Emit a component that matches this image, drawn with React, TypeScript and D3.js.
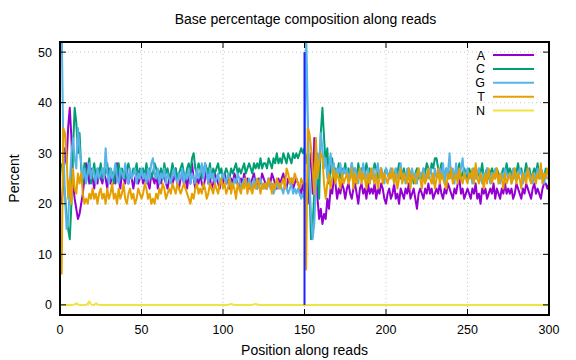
import * as d3 from 'd3';

// Percent of each base at every read position (1..300, two 150bp reads joined)
const aPercent = [
  20, 24, 31, 28, 35, 39, 33, 24, 21, 19, 17, 18, 20, 22, 25, 28, 26, 24, 27, 25, 23, 26, 24, 27, 25,
  24, 26, 25, 23, 27, 24, 26, 25, 24, 28, 25, 23, 26, 25, 24, 27, 24, 26, 25, 23, 25, 26, 24, 25, 26,
  24, 25, 27, 24, 23, 26, 25, 24, 26, 23, 25, 24, 26, 25, 24, 23, 25, 26, 24, 25, 27, 24, 23, 25, 26,
  24, 25, 23, 26, 24, 28, 25, 23, 25, 24, 26, 24, 23, 25, 27, 24, 25, 23, 24, 26, 25, 24, 23, 25, 24,
  26, 24, 25, 23, 25, 24, 26, 25, 24, 23, 25, 24, 26, 24, 25, 23, 24, 25, 26, 24, 23, 25, 24, 26, 25,
  24, 23, 25, 24, 26, 25, 24, 23, 25, 24, 25, 26, 24, 23, 25, 24, 25, 23, 24, 25, 24, 23, 22, 24, 22,
  24, 20, 27, 30, 22, 33, 28, 21, 17, 19, 16, 18, 17, 21, 19, 23, 22, 25, 24, 21, 23, 22, 24, 23, 21,
  23, 24, 22, 21, 23, 24, 22, 20, 23, 24, 22, 23, 21, 24, 22, 23, 22, 24, 21, 23, 22, 24, 23, 21, 20,
  22, 23, 21, 22, 24, 21, 22, 20, 23, 22, 21, 23, 22, 24, 21, 22, 23, 21, 19, 22, 23, 22, 21, 23, 22,
  24, 22, 23, 21, 22, 23, 22, 24, 22, 21, 23, 22, 24, 23, 22, 21, 23, 22, 24, 25, 22, 23, 21, 22, 23,
  22, 21, 23, 22, 24, 21, 22, 20, 23, 22, 23, 21, 22, 23, 22, 24, 21, 23, 22, 21, 23, 22, 24, 22, 23,
  22, 23, 21, 22, 24, 23, 22, 21, 23, 22, 24, 23, 22, 21, 23, 24, 22, 23, 22, 21, 23, 24, 24, 23, 24,
];

const cPercent = [
  28, 25, 22, 18, 15, 13, 20, 31, 39, 36, 30, 34, 27, 24, 28, 25, 27, 29, 24, 26, 28, 25, 27, 26, 28,
  25, 27, 26, 28, 25, 27, 26, 24, 27, 26, 28, 25, 27, 26, 25, 27, 28, 26, 25, 27, 26, 28, 25, 27, 26,
  27, 25, 28, 26, 27, 25, 26, 28, 27, 25, 26, 27, 25, 28, 26, 27, 25, 26, 28, 26, 27, 25, 26, 27, 28,
  26, 25, 27, 28, 26, 29, 30, 27, 26, 28, 27, 25, 26, 28, 27, 26, 28, 25, 27, 26, 27, 28, 26, 27, 25,
  26, 27, 26, 25, 27, 26, 27, 28, 26, 27, 26, 27, 28, 26, 27, 28, 27, 26, 28, 27, 28, 27, 29, 27, 28,
  28, 27, 29, 28, 27, 29, 28, 30, 28, 29, 28, 30, 29, 28, 30, 29, 28, 30, 29, 30, 29, 30, 31, 30, 31,
  28, 30, 24, 13, 16, 22, 30, 26, 21, 34, 39, 33, 28, 31, 24, 27, 29, 25, 27, 26, 28, 25, 27, 26, 28,
  26, 27, 25, 28, 26, 27, 25, 28, 26, 27, 25, 26, 28, 26, 27, 25, 26, 28, 27, 25, 26, 27, 25, 26, 27,
  26, 25, 27, 26, 25, 27, 26, 28, 25, 26, 27, 25, 26, 27, 25, 26, 24, 26, 27, 25, 26, 25, 27, 26, 28,
  27, 26, 28, 27, 29, 29, 27, 26, 28, 25, 26, 27, 25, 26, 27, 26, 25, 27, 26, 28, 25, 26, 27, 26, 25,
  27, 26, 25, 27, 26, 25, 27, 26, 28, 25, 26, 27, 25, 26, 27, 26, 25, 27, 26, 25, 26, 27, 26, 28, 26,
  27, 26, 25, 27, 26, 28, 26, 27, 25, 26, 28, 26, 27, 25, 26, 27, 26, 28, 25, 27, 26, 25, 27, 26, 26,
];

const gPercent = [
  56, 32, 22, 15, 16, 24, 30, 33, 29, 27, 35, 31, 28, 25, 27, 24, 26, 28, 25, 27, 26, 24, 27, 25, 26,
  27, 25, 31, 26, 24, 27, 25, 26, 28, 25, 24, 27, 26, 25, 28, 26, 24, 27, 25, 26, 27, 24, 26, 25, 27,
  25, 26, 24, 27, 25, 28, 29, 26, 25, 27, 24, 26, 25, 27, 24, 26, 25, 24, 26, 27, 25, 24, 26, 25, 27,
  24, 26, 25, 27, 24, 26, 25, 24, 27, 25, 26, 28, 25, 28, 26, 24, 27, 25, 26, 24, 25, 26, 24, 25, 26,
  25, 24, 26, 25, 24, 23, 25, 24, 26, 25, 23, 24, 25, 24, 23, 25, 24, 23, 25, 24, 23, 24, 25, 23, 24,
  23, 24, 25, 23, 24, 22, 23, 24, 23, 24, 23, 22, 24, 23, 22, 23, 24, 22, 23, 22, 23, 22, 21, 22, 21,
  55, 38, 25, 18, 13, 16, 24, 30, 28, 34, 31, 27, 29, 25, 27, 30, 26, 28, 25, 27, 26, 28, 25, 27, 26,
  27, 25, 26, 28, 25, 27, 26, 24, 27, 25, 28, 26, 25, 27, 24, 26, 27, 25, 26, 28, 25, 27, 26, 24, 27,
  26, 25, 27, 26, 24, 27, 25, 26, 28, 25, 26, 24, 27, 25, 26, 27, 25, 26, 24, 27, 25, 26, 27, 25, 26,
  25, 27, 26, 24, 27, 25, 26, 27, 25, 28, 24, 27, 26, 30, 25, 27, 24, 28, 26, 25, 27, 29, 25, 26, 27,
  25, 26, 24, 27, 25, 26, 27, 25, 24, 26, 25, 27, 26, 24, 26, 25, 27, 26, 25, 24, 26, 25, 27, 26, 25,
  26, 24, 27, 25, 26, 25, 27, 26, 24, 26, 25, 27, 26, 25, 24, 26, 25, 27, 26, 25, 26, 24, 26, 25, 25,
];

const tPercent = [
  6, 35, 34, 30, 21, 25, 20, 27, 23, 22, 26, 24, 26, 22, 20, 21, 20, 22, 21, 23, 21, 22, 20, 22, 23,
  21, 22, 20, 23, 21, 22, 24, 21, 22, 20, 23, 21, 22, 24, 21, 20, 22, 23, 21, 22, 20, 21, 23, 22, 21,
  22, 24, 23, 21, 22, 20, 21, 20, 22, 21, 23, 22, 24, 23, 21, 22, 23, 22, 24, 23, 22, 24, 23, 22, 23,
  24, 23, 22, 21, 20, 22, 21, 23, 24, 22, 23, 22, 24, 23, 21, 22, 24, 23, 22, 24, 23, 22, 24, 25, 23,
  24, 22, 23, 25, 22, 24, 23, 21, 24, 23, 22, 24, 23, 25, 22, 24, 23, 22, 24, 23, 25, 24, 22, 24, 23,
  24, 23, 25, 24, 22, 24, 23, 25, 24, 23, 24, 25, 23, 27, 26, 24, 25, 24, 26, 25, 24, 23, 25, 24, 24,
  7, 35, 34, 31, 27, 22, 33, 25, 28, 30, 29, 24, 21, 24, 26, 23, 25, 27, 24, 26, 25, 23, 26, 24, 25,
  26, 24, 25, 27, 23, 26, 24, 25, 27, 24, 26, 25, 23, 26, 24, 27, 25, 24, 26, 23, 25, 27, 24, 26, 25,
  24, 26, 25, 27, 24, 26, 23, 25, 27, 24, 26, 25, 24, 27, 23, 26, 25, 24, 26, 27, 25, 23, 26, 24, 25,
  27, 25, 24, 26, 23, 25, 27, 24, 26, 25, 24, 23, 26, 25, 27, 24, 25, 26, 24, 27, 25, 24, 26, 25, 24,
  26, 25, 27, 24, 28, 25, 24, 26, 25, 23, 26, 24, 27, 25, 24, 26, 25, 27, 24, 26, 25, 23, 26, 24, 25,
  26, 24, 25, 27, 24, 26, 25, 23, 26, 25, 24, 27, 25, 24, 26, 25, 24, 26, 25, 28, 24, 26, 25, 27, 26,
];

const nPercent = [
  0, 0, 0, 0, 0, 0, 0, 0, 0.1, 0.3, 0.1, 0, 0, 0, 0, 0, 0.2, 0.7, 0.1, 0, 0, 0.3, 0.1, 0, 0,
  0, 0, 0, 0, 0, 0, 0, 0, 0, 0, 0, 0, 0, 0, 0, 0, 0, 0, 0, 0, 0, 0, 0, 0, 0,
  0, 0, 0, 0, 0, 0, 0, 0, 0, 0, 0, 0, 0, 0, 0, 0, 0, 0, 0, 0, 0, 0, 0, 0, 0,
  0, 0, 0, 0, 0, 0, 0, 0, 0, 0, 0, 0, 0, 0, 0, 0, 0, 0, 0, 0, 0, 0, 0, 0, 0,
  0, 0, 0, 0.1, 0.2, 0.1, 0, 0, 0, 0, 0, 0, 0, 0, 0, 0, 0, 0, 0.1, 0.2, 0.1, 0, 0, 0, 0,
  0, 0, 0, 0, 0, 0, 0, 0, 0, 0, 0, 0, 0, 0, 0, 0, 0, 0, 0, 0, 0, 0, 0, 0, 0,
  0, 0, 0, 0, 0, 0, 0, 0, 0, 0, 0, 0, 0, 0, 0, 0, 0, 0, 0, 0, 0, 0, 0, 0, 0,
  0, 0, 0, 0, 0, 0, 0, 0, 0, 0, 0, 0, 0, 0, 0, 0, 0, 0, 0, 0, 0, 0, 0, 0, 0,
  0, 0, 0, 0, 0, 0, 0, 0, 0, 0, 0, 0, 0, 0, 0, 0, 0, 0, 0, 0, 0, 0, 0, 0, 0,
  0, 0, 0, 0, 0, 0, 0, 0, 0, 0, 0, 0, 0, 0, 0, 0, 0, 0, 0, 0, 0, 0, 0, 0, 0,
  0, 0, 0, 0, 0, 0, 0, 0, 0, 0, 0, 0, 0, 0, 0, 0, 0, 0, 0, 0, 0, 0, 0, 0, 0,
  0, 0, 0, 0, 0, 0, 0, 0, 0, 0, 0, 0, 0, 0, 0, 0, 0, 0, 0, 0, 0, 0, 0, 0, 0,
];

const seriesNames = ['A', 'C', 'G', 'T', 'N'];
const seriesColors = ['#9400d3', '#009e73', '#56b4e9', '#e69f00', '#f0e442'];
const seriesValues = [aPercent, cPercent, gPercent, tPercent, nPercent];

const xTicks = [0, 50, 100, 150, 200, 250, 300];
const yTicks = [0, 10, 20, 30, 40, 50];
const readBoundary = 150; // start of second read
const boundarySpan = [0, 50];

const W = 576;
const H = 360;
const left = 60;
const right = 549;
const top = 42;
const bottom = 315;
const font = "'Liberation Sans', Arial, Helvetica, sans-serif";

export default function App() {
  const x = d3.scaleLinear().domain([0, 300]).range([left, right]);
  const y = d3.scaleLinear().domain([-2, 52]).range([bottom, top]);

  const line = d3.line<number>()
    .x((_, i) => x(i + 1))
    .y(d => y(d));

  return (
    <svg width={W} height={H} style={{ position: 'absolute', left: 0, top: 0, background: '#fff' }}
      fontFamily={font}>
      <defs>
        <clipPath id="plot-clip">
          <rect x={left} y={top} width={right - left} height={bottom - top} />
        </clipPath>
      </defs>

      {/* grid */}
      {xTicks.slice(1, -1).map(t => (
        <line key={'gx' + t} x1={x(t)} x2={x(t)} y1={top} y2={bottom}
          stroke="#c8c8c8" strokeWidth={1} strokeDasharray="1,3" />
      ))}
      {yTicks.map(t => (
        <line key={'gy' + t} x1={left} x2={right} y1={y(t)} y2={y(t)}
          stroke="#c8c8c8" strokeWidth={1} strokeDasharray="1,3" />
      ))}

      {/* series */}
      <g clipPath="url(#plot-clip)">
        {seriesValues.map((vals, i) => (
          <path key={seriesNames[i]} d={line(vals) || ''} fill="none"
            stroke={seriesColors[i]} strokeWidth={2} strokeLinejoin="round" />
        ))}
        <line x1={x(readBoundary)} x2={x(readBoundary)} y1={y(boundarySpan[0])} y2={y(boundarySpan[1])}
          stroke="#1f1fff" strokeWidth={2} />
      </g>

      {/* ticks, inward and mirrored */}
      {xTicks.map(t => (
        <g key={'tx' + t}>
          <line x1={x(t)} x2={x(t)} y1={bottom} y2={bottom - 6} stroke="#000" strokeWidth={1} />
          <line x1={x(t)} x2={x(t)} y1={top} y2={top + 6} stroke="#000" strokeWidth={1} />
          <text x={x(t)} y={334} textAnchor="middle" fontSize={12.5} fill="#000">{t}</text>
        </g>
      ))}
      {yTicks.map(t => (
        <g key={'ty' + t}>
          <line x1={left} x2={left + 6} y1={y(t)} y2={y(t)} stroke="#000" strokeWidth={1} />
          <line x1={right} x2={right - 6} y1={y(t)} y2={y(t)} stroke="#000" strokeWidth={1} />
          <text x={52} y={y(t) + 4.5} textAnchor="end" fontSize={12.5} fill="#000">{t}</text>
        </g>
      ))}

      {/* border */}
      <rect x={left} y={top} width={right - left} height={bottom - top} fill="none" stroke="#000" strokeWidth={2} />

      {/* legend */}
      {seriesNames.map((name, i) => (
        <g key={'lg' + name} transform={`translate(0,${55 + i * 13.9})`}>
          <text x={485} y={4.5} textAnchor="end" fontSize={12.5} fill="#000">{name}</text>
          <line x1={493} x2={534} y1={0} y2={0} stroke={seriesColors[i]} strokeWidth={2} />
        </g>
      ))}

      {/* labels */}
      <text x={(left + right) / 2 + 1} y={24} textAnchor="middle" fontSize={14} fill="#000">
        Base percentage composition along reads
      </text>
      <text x={(left + right) / 2} y={355} textAnchor="middle" fontSize={14} fill="#000">
        Position along reads
      </text>
      <text transform={`translate(19,${(top + bottom) / 2}) rotate(-90)`} textAnchor="middle" fontSize={14} fill="#000">
        Percent
      </text>
    </svg>
  );
}
